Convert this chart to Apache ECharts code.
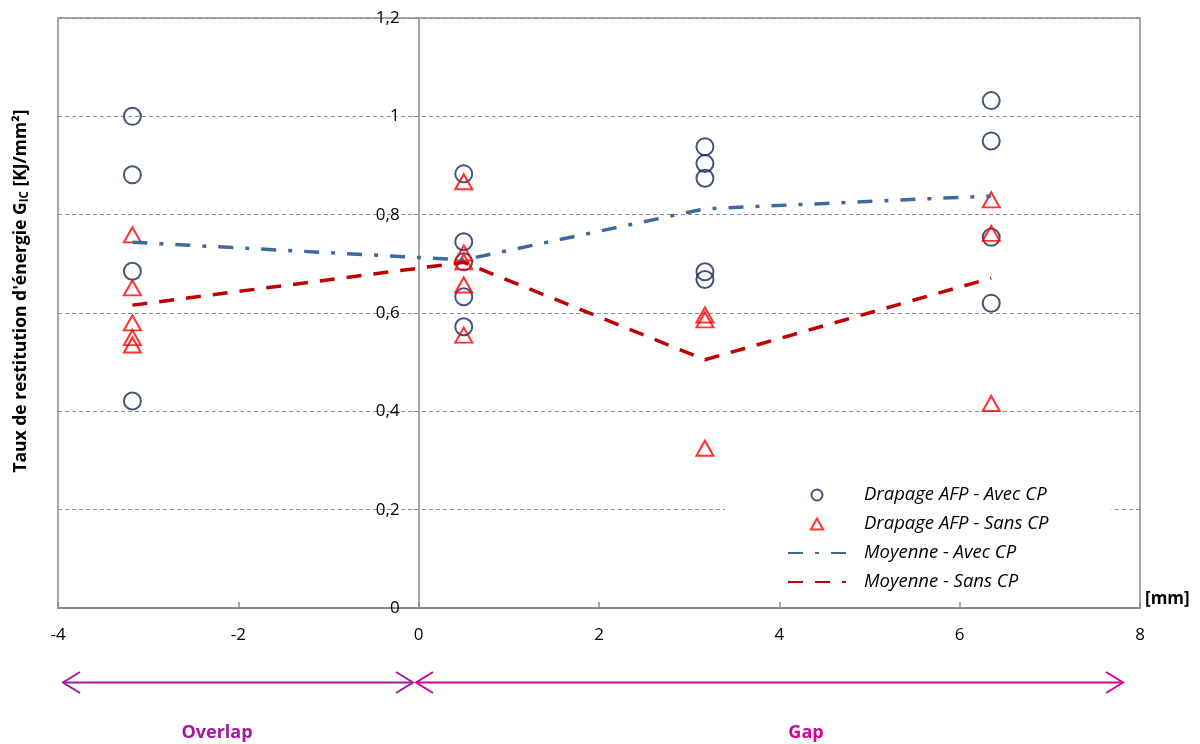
<!DOCTYPE html>
<html>
<head>
<meta charset="utf-8">
<script src="https://cdn.jsdelivr.net/npm/echarts@6/dist/echarts.min.js"></script>
<style>
html,body{margin:0;padding:0;background:#fff;}
#chart{width:1200px;height:744px;}
</style>
</head>
<body>
<div id="chart"></div>
<script>
// ---- data ----
const avecX = [-3.175,-3.175,-3.175,-3.175, 0.5,0.5,0.5,0.5,0.5, 3.175,3.175,3.175,3.175,3.175, 6.35,6.35,6.35,6.35];
const avecY = [1.0,0.881,0.685,0.421, 0.883,0.745,0.704,0.633,0.572, 0.938,0.904,0.874,0.684,0.668, 1.032,0.95,0.754,0.62];
const sansX = [-3.175,-3.175,-3.175,-3.175,-3.175, 0.5,0.5,0.5,0.5,0.5, 3.175,3.175,3.175, 6.35,6.35,6.35];
const sansY = [0.759,0.651,0.58,0.55,0.535, 0.867,0.722,0.704,0.657,0.555, 0.596,0.586,0.325, 0.83,0.762,0.416];
const meanX = [-3.175, 0.5, 3.175, 6.35];
const meanAvec = [0.744, 0.708, 0.812, 0.838];
const meanSans = [0.616, 0.703, 0.505, 0.671];
const seriesNames = ['Drapage AFP - Avec CP','Drapage AFP - Sans CP','Moyenne - Avec CP','Moyenne - Sans CP'];
const xTicks = {min:-4, max:8, interval:2};
const yTicks = {min:0, max:1.2, interval:0.2};

const zip = (xs, ys) => xs.map((x,i)=>[x, ys[i]]);
const FONT = '"Open Sans", Lato, sans-serif';
const AXIS = '#8a8a8a';
const GRID = {left:58, right:60, top:18, bottom:136};
const gridW = 1200 - GRID.left - GRID.right;
// y axis crosses the x axis at x = 0
const yAxisOffset = -((0 - xTicks.min) / (xTicks.max - xTicks.min)) * gridW;

const chart = echarts.init(document.getElementById('chart'), null, {renderer:'canvas'});
chart.setOption({
  animation:false,
  backgroundColor:'#fff',
  textStyle:{fontFamily:FONT},
  grid:Object.assign({show:true, borderColor:AXIS, borderWidth:1.5, containLabel:false}, GRID),
  xAxis:{
    type:'value', min:xTicks.min, max:xTicks.max, interval:xTicks.interval,
    name:'[mm]', nameLocation:'end', nameGap:5,
    nameTextStyle:{fontWeight:'bold', fontSize:17, color:'#000', fontFamily:FONT, verticalAlign:'bottom', padding:[0,0,0,0]},
    axisLine:{onZero:false, lineStyle:{color:AXIS, width:2}},
    axisTick:{show:true, inside:true, length:6, lineStyle:{color:AXIS, width:1.5}},
    axisLabel:{fontSize:17, color:'#000', margin:19, fontFamily:FONT},
    splitLine:{show:false}
  },
  yAxis:{
    type:'value', min:yTicks.min, max:yTicks.max, interval:yTicks.interval,
    offset:yAxisOffset,
    axisLine:{show:true, onZero:false, lineStyle:{color:AXIS, width:1.5}},
    axisTick:{show:true, length:5, lineStyle:{color:AXIS}},
    axisLabel:{fontSize:17, color:'#000', margin:19, fontFamily:FONT,
      formatter:v=>{const s=(Math.round(v*10)/10).toString(); return s.replace('.',',');}},
    splitLine:{show:true, lineStyle:{color:'#8c8c8c', width:1, type:[4,3]}}
  },
  legend:{
    orient:'vertical', left:725, top:479,
    backgroundColor:'#fff', padding:[4,63,8,62],
    itemWidth:58, itemHeight:11, itemGap:5, symbolKeepAspect:true,
    textStyle:{fontSize:18.5, fontStyle:'italic', color:'#000', fontFamily:FONT, lineHeight:24, padding:[0,0,0,13]},
    data:[
      {name:seriesNames[0]},
      {name:seriesNames[1], icon:'path://M5,0 L10,9 L0,9 Z',
       itemStyle:{color:'rgba(0,0,0,0)', borderColor:'#ff0000', borderWidth:2}},
      {name:seriesNames[2], itemStyle:{color:'rgba(0,0,0,0)', borderWidth:0}},
      {name:seriesNames[3], itemStyle:{color:'rgba(0,0,0,0)', borderWidth:0}}
    ]
  },
  series:[
    {name:seriesNames[0], type:'scatter', data:zip(avecX, avecY), symbol:'circle', symbolSize:17, symbolKeepAspect:true,
     itemStyle:{color:'rgba(0,0,0,0)', borderColor:'#142c58', borderWidth:2}, z:3},
    {name:seriesNames[1], type:'scatter', data:zip(sansX, sansY), symbol:'triangle', symbolSize:[17,15], symbolKeepAspect:true,
     itemStyle:{color:'rgba(0,0,0,0)', borderColor:'#ff0000', borderWidth:2}, z:3},
    {name:seriesNames[2], type:'line', data:zip(meanX, meanAvec), symbol:'none', showSymbol:false,
     lineStyle:{color:'#3f6aa0', width:3.5, type:[15,12,4,12]}, itemStyle:{color:'#3f6aa0'}, z:4},
    {name:seriesNames[3], type:'line', data:zip(meanX, meanSans), symbol:'none', showSymbol:false,
     lineStyle:{color:'#c00000', width:3.5, type:[15,12]}, itemStyle:{color:'#c00000'}, z:4}
  ],
  graphic:[
    {type:'text', x:21, y:291, rotation:Math.PI/2,
     style:{text:'Taux de restitution d\'énergie G{sub|IC} [KJ/mm²]', align:'center', verticalAlign:'middle',
       fontSize:17.5, fontWeight:'bold', fontFamily:FONT, fill:'#000',
       rich:{sub:{fontSize:11.5, fontWeight:'bold', fontFamily:FONT, fill:'#000', verticalAlign:'bottom', padding:[8,0,0,0]}}}},
    // Overlap arrow
    {type:'line', shape:{x1:63, y1:682.5, x2:412, y2:682.5}, style:{stroke:'#a0199f', lineWidth:2}},
    {type:'polyline', shape:{points:[[80,672],[63,682.5],[80,693]]}, style:{stroke:'#a0199f', lineWidth:2, fill:null}},
    {type:'polyline', shape:{points:[[396,672],[413,682.5],[396,693]]}, style:{stroke:'#a0199f', lineWidth:2, fill:null}},
    // Gap arrow
    {type:'line', shape:{x1:416, y1:682.5, x2:1122, y2:682.5}, style:{stroke:'#d6009b', lineWidth:2}},
    {type:'polyline', shape:{points:[[433,672],[416,682.5],[433,693]]}, style:{stroke:'#d6009b', lineWidth:2, fill:null}},
    {type:'polyline', shape:{points:[[1106,672],[1123,682.5],[1106,693]]}, style:{stroke:'#d6009b', lineWidth:2, fill:null}},
    {type:'text', x:217, y:733, style:{text:'Overlap', align:'center', verticalAlign:'middle', fontSize:18, fontWeight:'bold', fontFamily:FONT, fill:'#a0199f'}},
    {type:'text', x:806, y:733, style:{text:'Gap', align:'center', verticalAlign:'middle', fontSize:18, fontWeight:'bold', fontFamily:FONT, fill:'#d6009b'}}
  ]
});
</script>
</body>
</html>
